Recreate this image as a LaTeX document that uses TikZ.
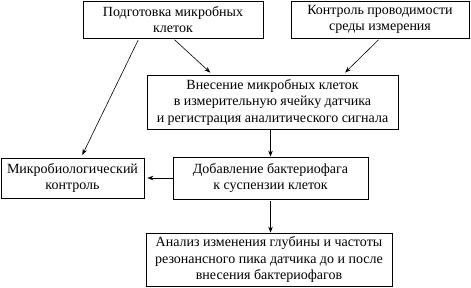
\documentclass[tikz,border=0pt]{standalone}
\usepackage{fontspec}
\setmainfont{Liberation Serif}
\usetikzlibrary{arrows.meta}
\tikzset{
  stepbox/.style={draw, line width=0.7pt, inner sep=0pt, align=center,
    font=\fontsize{14}{16.5}\selectfont},
  flow/.style={-{Stealth[length=6pt,width=4.5pt]}, line width=0.6pt}
}
\begin{document}
\begin{tikzpicture}[x=1pt, y=-1pt]
    \useasboundingbox (0,0) rectangle (471,287);

    % верхний ряд
    \node[stepbox, minimum width=180pt, minimum height=37pt] (prep) at (173, 19.5)
        {Подготовка микробных\\клеток};
    \node[stepbox, minimum width=178pt, minimum height=37pt] (conduct) at (380, 19.5)
        {Контроль проводимости\\среды измерения};

    % внесение клеток
    \node[stepbox, minimum width=251pt, minimum height=54pt] (insert) at (272.5, 102)
        {Внесение микробных клеток\\в измерительную ячейку датчика\\и регистрация аналитического сигнала};

    % средний ряд
    \node[stepbox, minimum width=143pt, minimum height=40pt] (micro) at (72.5, 178)
        {Микробиологический\\контроль};
    \node[stepbox, minimum width=195pt, minimum height=42pt] (phage) at (270.5, 178)
        {Добавление бактериофага\\к суспензии клеток};

    % анализ
    \node[stepbox, minimum width=246pt, minimum height=53pt] (analysis) at (269, 259.5)
        {Анализ изменения глубины и частоты\\резонансного пика датчика до и после\\внесения бактериофагов};

    % стрелки
    \draw[flow, shorten <=2pt, shorten >=3pt] (prep.south) -- ([xshift=-60pt]insert.north);
    \draw[flow, shorten <=2pt, shorten >=3pt] (conduct.south) -- ([xshift=70.5pt]insert.north);
    \draw[flow, shorten <=2pt, shorten >=3pt] ([xshift=-34pt]prep.south) -- ([xshift=8.5pt]micro.north);
    \draw[flow] (phage.north |- insert.south) -- (phage.north);
    \draw[flow, shorten >=3pt] (phage.west) -- (micro.east);
    \draw[flow, shorten <=2pt] (phage.south) -- (phage.south |- analysis.north);
\end{tikzpicture}
\end{document}
